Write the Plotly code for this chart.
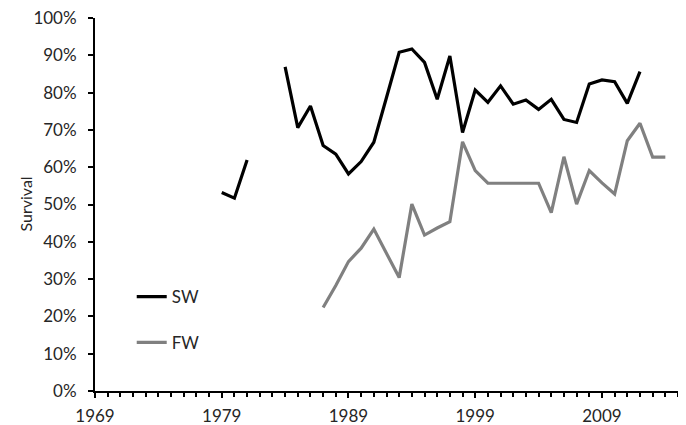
import plotly.graph_objects as go

years = list(range(1979, 2015))
sw = [0.532, 0.517, 0.619, None, None, 0.869, 0.706, 0.764, 0.658, 0.635, 0.582, 0.615,
      0.667, 0.787, 0.908, 0.917, 0.881, 0.782, 0.898, 0.693, 0.807, 0.774, 0.818, 0.769,
      0.780, 0.755, 0.782, 0.728, 0.720, 0.823, 0.834, 0.829, 0.771, 0.856, None, None]
fw = [None, None, None, None, None, None, None, None, 0.224, 0.283, 0.347, 0.383,
      0.434, 0.368, 0.304, 0.501, 0.418, 0.437, 0.454, 0.668, 0.591, 0.557, 0.557, 0.557,
      0.557, 0.557, 0.478, 0.628, 0.501, 0.591, 0.558, 0.528, 0.671, 0.718, 0.627, 0.627]
y_ticks = [i / 10 for i in range(11)]
y_labels = [f"{i * 10}%" for i in range(11)]
x_ticks = [1969, 1979, 1989, 1999, 2009]

FONT = "Lato"
TXT = "#262626"
fig = go.Figure()
fig.add_trace(go.Scatter(x=years, y=sw, mode="lines", name="SW", showlegend=True,
                         line=dict(color="#000000", width=3.2), connectgaps=False,
                         legend="legend"))
fig.add_trace(go.Scatter(x=years, y=fw, mode="lines", name="FW", showlegend=True,
                         line=dict(color="#808080", width=3.2), connectgaps=False,
                         legend="legend2"))

# page body has an 8px margin, so the figure is sized/offset to compensate
fig.update_layout(
    width=678, height=417,
    margin=dict(l=87, r=8, t=10, b=34, autoexpand=False),
    paper_bgcolor="white", plot_bgcolor="white", showlegend=True,
    font=dict(family=FONT, size=17, color=TXT),
    legend=dict(x=0.063, y=0.252, xanchor="left", yanchor="middle", visible=True,
                bgcolor="rgba(0,0,0,0)", font=dict(size=17, color=TXT)),
    legend2=dict(x=0.063, y=0.129, xanchor="left", yanchor="middle", visible=True,
                 bgcolor="rgba(0,0,0,0)", font=dict(size=17, color=TXT)),
    annotations=[dict(text="Survival", textangle=-90, x=-0.12, y=0.5,
                      xref="paper", yref="paper", xanchor="center", yanchor="middle",
                      showarrow=False, font=dict(family=FONT, size=16, color=TXT))],
)
fig.update_xaxes(range=[1969, 2015], tickvals=x_ticks, showgrid=False, zeroline=False,
                 showline=True, linecolor="black", linewidth=2,
                 ticks="outside", ticklen=5, tickwidth=2, tickcolor="black",
                 tickfont=dict(size=17, color=TXT), ticklabeloverflow="allow",
                 minor=dict(dtick=1, tick0=1969, ticks="outside", ticklen=4, tickwidth=2,
                            tickcolor="black", showgrid=False),
                 ticklabelstandoff=4)
fig.update_yaxes(range=[0, 1], tickvals=y_ticks, ticktext=y_labels, showgrid=False,
                 zeroline=False, showline=True, linecolor="black", linewidth=2,
                 ticks="outside", ticklen=5, tickwidth=2, tickcolor="black",
                 tickfont=dict(size=17, color=TXT), ticklabeloverflow="allow",
                 ticklabelstandoff=8)

fig.write_html("out.html")
